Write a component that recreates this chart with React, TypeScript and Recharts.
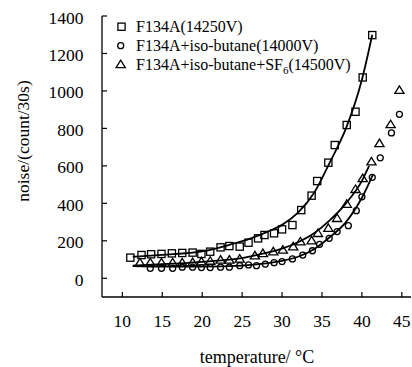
import { ComposedChart, Legend, Line, Scatter, XAxis, YAxis } from "recharts";

const FONT = '"Liberation Serif", "Times New Roman", serif';

// F134A (14250V) measured points
const squareTemp = [11.0, 12.4, 13.6, 14.9, 16.2, 17.5, 18.8, 19.9, 21.0, 22.3, 23.4, 24.7, 25.8, 27.0, 27.8, 29.0, 30.0, 31.3, 32.4, 33.7, 34.4, 35.8, 36.6, 38.1, 39.2, 40.1, 41.3];
const squareNoise = [110, 124, 128, 130, 133, 135, 137, 130, 142, 165, 172, 169, 190, 213, 231, 240, 261, 284, 364, 441, 519, 617, 711, 818, 889, 1072, 1298];

// F134A+iso-butane (14000V)
const circleTemp = [13.5, 14.9, 16.3, 17.5, 18.8, 19.9, 21.0, 22.3, 23.4, 24.7, 25.8, 26.8, 27.9, 29.0, 30.0, 31.3, 32.6, 33.8, 34.7, 35.9, 36.9, 38.3, 39.3, 40.0, 41.3, 42.3, 43.7, 44.7];
const circleNoise = [53, 53, 53, 59, 59, 57, 57, 59, 59, 67, 71, 67, 76, 83, 89, 103, 124, 147, 181, 213, 249, 281, 361, 435, 539, 643, 776, 875];

// F134A+iso-butane+SF6 (14500V)
const triangleTemp = [12.2, 13.5, 14.9, 16.3, 17.5, 18.8, 19.9, 21.0, 22.3, 23.4, 24.7, 26.6, 27.6, 28.9, 30.1, 31.4, 32.3, 33.7, 34.5, 35.8, 36.9, 38.1, 39.2, 40.1, 41.2, 42.2, 43.6, 44.7];
const triangleNoise = [83, 83, 83, 83, 83, 85, 89, 92, 98, 98, 103, 121, 133, 142, 151, 169, 195, 201, 240, 267, 320, 396, 475, 533, 622, 720, 821, 1004];

// fitted curves
const fitSquareTemp = [11.3, 15, 20, 23.5, 26, 28, 30, 32, 34, 36, 38, 40, 41.3];
const fitSquareNoise = [115, 125, 143, 180, 212, 245, 285, 350, 455, 620, 800, 1060, 1300];
const fitCircleTemp = [11.3, 15, 20, 25, 28, 30, 32, 34, 36, 38, 40, 41.4];
const fitCircleNoise = [65, 62, 62, 68, 80, 93, 115, 155, 220, 300, 430, 555];
const fitTriangleTemp = [11.3, 15, 20, 25, 28, 30, 32, 34, 36, 38, 40, 40.9];
const fitTriangleNoise = [68, 75, 88, 108, 135, 158, 192, 240, 310, 400, 520, 600];

const xMajor = [10, 15, 20, 25, 30, 35, 40, 45];
const xMinor = [12.5, 17.5, 22.5, 27.5, 32.5, 37.5, 42.5];
const yMajor = [0, 200, 400, 600, 800, 1000, 1200, 1400];
const yMinor = [100, 300, 500, 700, 900, 1100, 1300];

const legendNames = ["F134A(14250V)", "F134A+iso-butane(14000V)", "F134A+iso-butane+SF"];

const zip = (t: number[], v: number[]) => t.map((x, i) => ({ t: x, v: v[i] }));

const squares = zip(squareTemp, squareNoise);
const circles = zip(circleTemp, circleNoise);
const triangles = zip(triangleTemp, triangleNoise);
const fitSquare = zip(fitSquareTemp, fitSquareNoise);
const fitCircle = zip(fitCircleTemp, fitCircleNoise);
const fitTriangle = zip(fitTriangleTemp, fitTriangleNoise);

const SquareMark = ({ cx, cy }: any) => (
  <rect x={cx - 3.6} y={cy - 3.6} width={7.2} height={7.2} fill="none" stroke="#000" strokeWidth={1.3} />
);
const CircleMark = ({ cx, cy }: any) => (
  <circle cx={cx} cy={cy} r={3} fill="none" stroke="#000" strokeWidth={1.3} />
);
const TriangleMark = ({ cx, cy }: any) => (
  <polygon
    points={`${cx},${cy - 4.3} ${cx - 4.6},${cy + 3.2} ${cx + 4.6},${cy + 3.2}`}
    fill="none"
    stroke="#000"
    strokeWidth={1.3}
  />
);

const XTick = ({ x, y, payload }: any) => {
  const major = xMajor.includes(payload.value);
  return (
    <g>
      <line x1={x} x2={x} y1={y} y2={y - (major ? 5 : 3)} stroke="#000" strokeWidth={1.2} />
      {major && (
        <text x={x} y={y + 30} textAnchor="middle" fontSize={17.5} fontFamily={FONT} fill="#000">
          {payload.value}
        </text>
      )}
    </g>
  );
};

const YTick = ({ x, y, payload }: any) => {
  const major = yMajor.includes(payload.value);
  return (
    <g>
      <line x1={x} x2={x + (major ? 5 : 3)} y1={y} y2={y} stroke="#000" strokeWidth={1.2} />
      {major && (
        <text x={x - 18.5} y={y + 7.5} textAnchor="end" fontSize={17.5} fontFamily={FONT} fill="#000">
          {payload.value}
        </text>
      )}
    </g>
  );
};

const YTitle = () => (
  <text x={29} y={141} transform="rotate(-90 29 141)" textAnchor="middle" fontSize={17.5} fontFamily={FONT} fill="#000">
    noise/(count/30s)
  </text>
);

const XTitle = () => (
  <text x={257} y={363} textAnchor="middle" fontSize={18} fontFamily={FONT} fill="#000">
    temperature/ °C
  </text>
);

const LegendBox = () => (
  <svg width={412} height={80} style={{ display: "block" }}>
    <SquareMark cx={121.5} cy={26.7} />
    <CircleMark cx={120.7} cy={45.7} />
    <TriangleMark cx={120.7} cy={64.5} />
    <g fontFamily={FONT} fontSize={16} fill="#000">
      <text x={136} y={32}>{legendNames[0]}</text>
      <text x={136} y={51}>{legendNames[1]}</text>
      <text x={136} y={69.5}>
        {legendNames[2]}
        <tspan dy={4} fontSize={11}>6</tspan>
        <tspan dy={-4}>(14500V)</tspan>
      </text>
    </g>
  </svg>
);

export default function App() {
  return (
    <div style={{ position: "absolute", left: 0, top: 0, background: "#fff" }}>
      <ComposedChart
        width={412}
        height={367}
        margin={{ top: 16, right: 1, bottom: 0, left: 0 }}
        style={{ fontFamily: FONT }}
      >
        <XAxis
          type="number"
          dataKey="t"
          domain={[7.45, 46.15]}
          allowDataOverflow
          ticks={[...xMajor, ...xMinor].sort((a, b) => a - b)}
          tick={<XTick />}
          tickLine={false}
          tickSize={0}
          tickMargin={0}
          height={70}
          axisLine={{ stroke: "#000", strokeWidth: 1.3 }}
          label={<XTitle />}
        />
        <YAxis
          type="number"
          dataKey="v"
          domain={[-100, 1400]}
          allowDataOverflow
          ticks={[...yMajor, ...yMinor].sort((a, b) => a - b)}
          tick={<YTick />}
          tickLine={false}
          tickSize={0}
          tickMargin={0}
          width={102}
          axisLine={{ stroke: "#000", strokeWidth: 1.3 }}
          label={<YTitle />}
        />
        <Legend
          layout="vertical"
          align="center"
          verticalAlign="middle"
          content={<LegendBox />}
          wrapperStyle={{ left: 0, top: 0, width: 412, height: 80 }}
        />
        <Line data={fitSquare} dataKey="v" type="monotone" stroke="#000" strokeWidth={1.8} dot={false} isAnimationActive={false} legendType="none" />
        <Line data={fitCircle} dataKey="v" type="monotone" stroke="#000" strokeWidth={1.8} dot={false} isAnimationActive={false} legendType="none" />
        <Line data={fitTriangle} dataKey="v" type="monotone" stroke="#000" strokeWidth={1.8} dot={false} isAnimationActive={false} legendType="none" />
        <Scatter name={legendNames[0]} data={squares} dataKey="v" shape={<SquareMark />} isAnimationActive={false} />
        <Scatter name={legendNames[1]} data={circles} dataKey="v" shape={<CircleMark />} isAnimationActive={false} />
        <Scatter name={legendNames[2]} data={triangles} dataKey="v" shape={<TriangleMark />} isAnimationActive={false} />
      </ComposedChart>
    </div>
  );
}
